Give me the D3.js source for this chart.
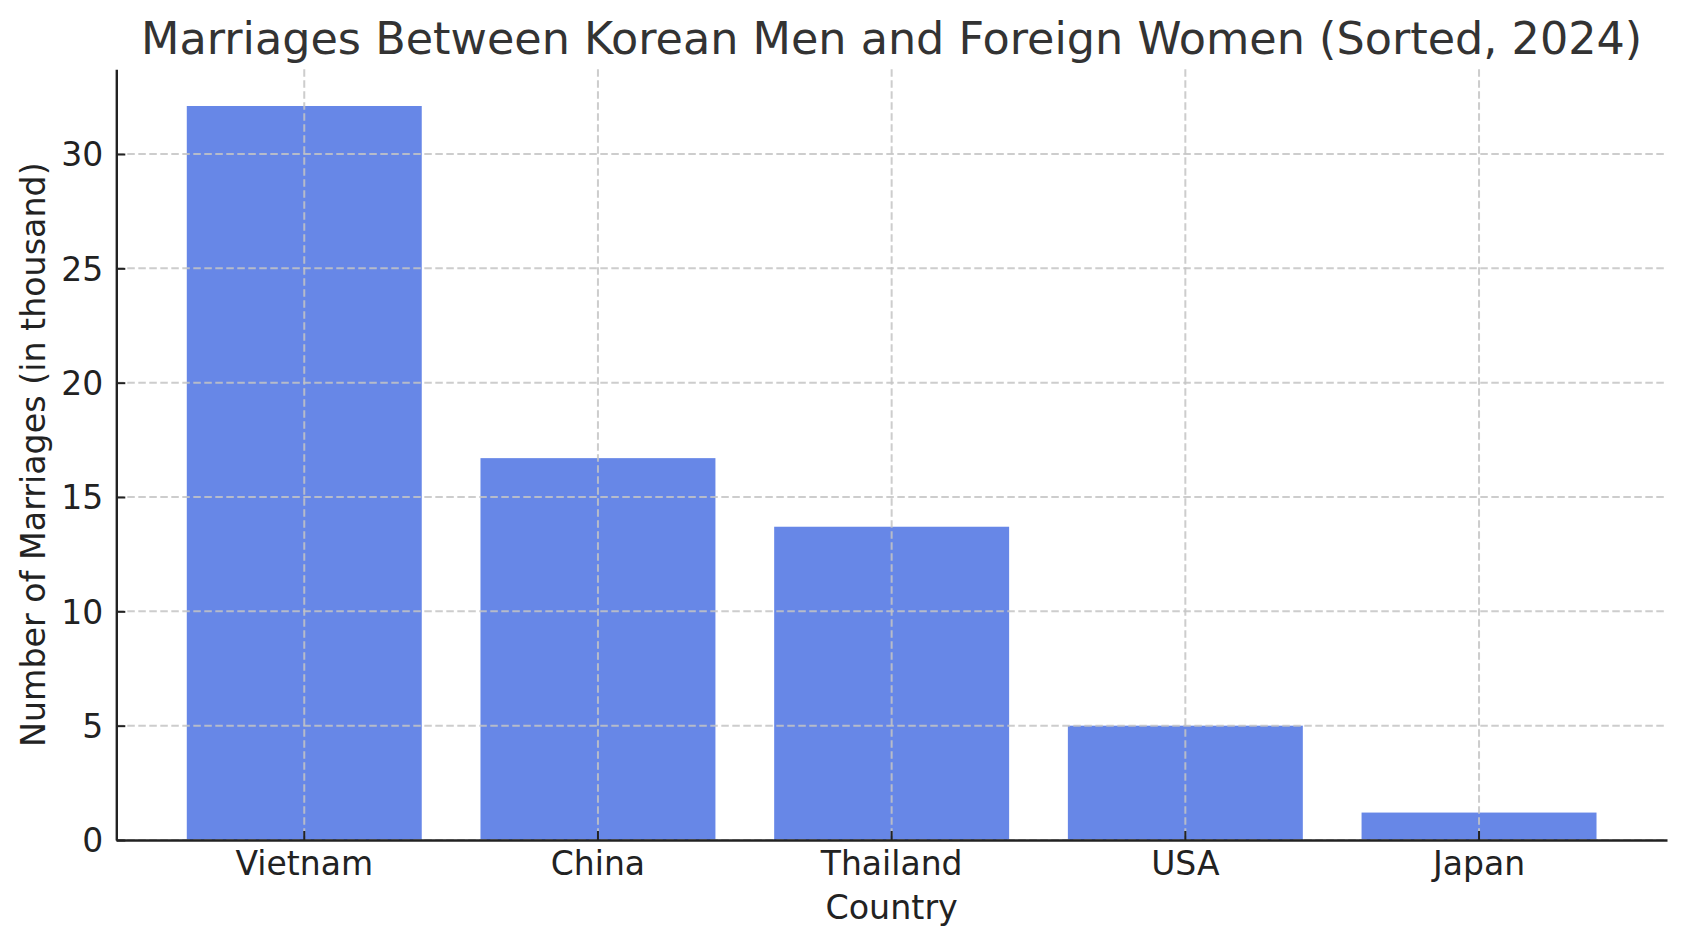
<!DOCTYPE html>
<html>
<head>
<meta charset="utf-8">
<script src="https://cdn.jsdelivr.net/npm/d3@7"></script>
<style>
  body { margin: 0; background: #fff; }
  text { font-family: "DejaVu Sans", sans-serif; }
</style>
</head>
<body>
<div id="chart"></div>
<script>
// data
var countries = ['Vietnam', 'China', 'Thailand', 'USA', 'Japan']
var marriages = [32.1, 16.7, 13.7, 5.0, 1.2]
var yTicks = [0, 5, 10, 15, 20, 25, 30]

var width = 1686, height = 947
var margin = {top: 69.3, right: 19, bottom: 107, left: 116.3}
var plotW = width - margin.left - margin.right
var plotH = height - margin.top - margin.bottom

var svg = d3.select('#chart')
  .append('svg')
  .attr('width', width)
  .attr('height', height)

var g = svg.append('g')
  .attr('transform', 'translate(' + margin.left + ',' + margin.top + ')')

// band scale set up like matplotlib: width 0.8, 5% margins
var x = d3.scaleBand()
  .domain(countries)
  .range([0, plotW])
  .paddingInner(0.2)
  .paddingOuter(0.24)

var y = d3.scaleLinear()
  .domain([0, d3.max(marriages) * 1.05])
  .range([plotH, 0])

// bars
g.selectAll('.bar')
  .data(countries)
  .enter()
  .append('rect')
  .attr('class', 'bar')
  .attr('x', d => x(d))
  .attr('width', x.bandwidth())
  .attr('y', (d, i) => y(marriages[i]))
  .attr('height', (d, i) => plotH - y(marriages[i]))
  .attr('fill', '#6787e7')

// grid on top of bars
var grid = g.append('g').attr('class', 'grid')
grid.selectAll('.hgrid')
  .data(yTicks)
  .enter()
  .append('line')
  .attr('x1', 0).attr('x2', plotW)
  .attr('y1', d => y(d)).attr('y2', d => y(d))
grid.selectAll('.vgrid')
  .data(countries)
  .enter()
  .append('line')
  .attr('x1', d => x(d) + x.bandwidth() / 2)
  .attr('x2', d => x(d) + x.bandwidth() / 2)
  .attr('y1', 0).attr('y2', plotH)
grid.selectAll('line')
  .attr('stroke', '#c4c4c4')
  .attr('stroke-opacity', 0.85)
  .attr('stroke-width', 2)
  .attr('stroke-dasharray', '7.5,3.5')

// axes, ticks pointing inward
var xAxis = g.append('g')
  .attr('transform', 'translate(0,' + plotH + ')')
  .call(d3.axisBottom(x).tickSizeInner(-9).tickSizeOuter(0))
var yAxis = g.append('g')
  .call(d3.axisLeft(y).tickValues(yTicks).tickSizeInner(-9).tickSizeOuter(0))

;[xAxis, yAxis].forEach(function(a) {
  a.select('.domain').attr('stroke', '#222').attr('stroke-width', 2.4)
  a.selectAll('.tick line').attr('stroke', '#222').attr('stroke-width', 2)
  a.selectAll('.tick text')
    .attr('fill', '#222')
    .style('font-size', '33px')
    .style('font-family', '"DejaVu Sans", sans-serif')
})
xAxis.selectAll('.tick text').attr('dy', 0).attr('y', 35)
yAxis.selectAll('.tick text').attr('dy', '0.36em').attr('x', -13)

// title and labels
svg.append('text')
  .attr('x', margin.left + plotW / 2)
  .attr('y', 54)
  .attr('text-anchor', 'middle')
  .attr('fill', '#333')
  .style('font-size', '44.5px')
  .text('Marriages Between Korean Men and Foreign Women (Sorted, 2024)')

svg.append('text')
  .attr('x', margin.left + plotW / 2)
  .attr('y', 919)
  .attr('text-anchor', 'middle')
  .attr('fill', '#222')
  .style('font-size', '33.3px')
  .text('Country')

svg.append('text')
  .attr('transform', 'translate(45,' + (margin.top + plotH / 2) + ') rotate(-90)')
  .attr('text-anchor', 'middle')
  .attr('fill', '#222')
  .style('font-size', '33.3px')
  .text('Number of Marriages (in thousand)')
</script>
</body>
</html>
